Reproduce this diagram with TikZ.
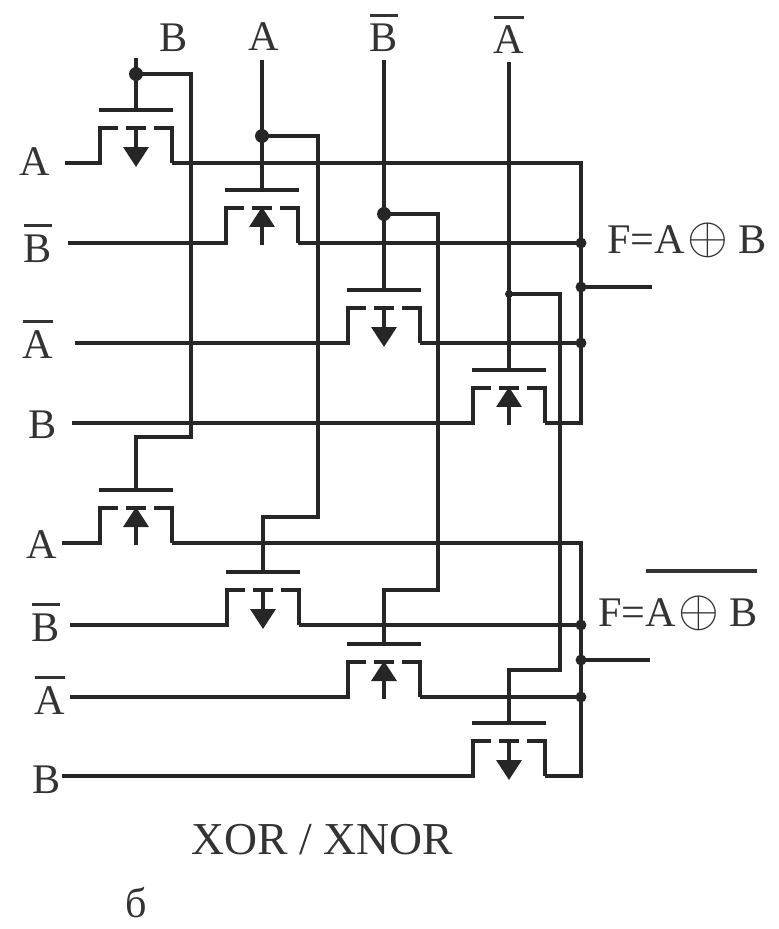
\documentclass[tikz,border=0pt]{standalone}
\usepackage{fontspec}
\usepackage{graphicx}
\setmainfont{Liberation Serif}
\usetikzlibrary{arrows.meta}
\newcommand{\ovl}[2][4pt]{\leavevmode\vbox{\hrule height 2pt \kern #1\hbox{#2}}}
\newcommand{\xorsym}{\kern1.5pt\scalebox{1.2}{\fontsize{30}{30}\selectfont$\oplus$}\kern1.5pt}

\begin{document}
\begin{tikzpicture}[
  x=0.02cm, y=-0.02cm,
  font=\fontsize{24}{28}\selectfont,
  wire/.style={line width=2pt, black!85},
  gatebar/.style={line width=1.8pt, black!85},
  channel/.style={line width=2pt, black!85, line join=miter},
  flow/.style={line width=2pt, black!85, -{Triangle[length=0.4cm,width=0.5cm]}},
  dot/.style={circle, fill=black!85, minimum size=0pt},
  label/.style={anchor=base, text=black!80}
]
\useasboundingbox (0,0) rectangle (778,929);

% Eight transistors: name / centre / gate level / arrow from / arrow to / input end / label x / baseline / label
\foreach \name/\cx/\gy/\af/\at/\inx/\lx/\ly/\txt in {
  t1/136/110/17/57/65/35/175/{A},
  t2/262/190/55/17/68/38/262/{\ovl{B}},
  t3/384/290/17/57/75/38/358/{\ovl{A}},
  t4/509/370/55/17/72/43/438/{B},
  t5/136/490/55/17/62/42/558/{A},
  t6/263/572/17/57/70/46/641/{\ovl{B}},
  t7/384/644/55/17/70/50/714/{\ovl{A}},
  t8/509/723/17/57/62/47/793/{B}} {
  \coordinate (\name-g) at (\cx,\gy);
  \coordinate (\name-s) at (\cx-36,\gy+53);
  \coordinate (\name-d) at (\cx+36,\gy+53);
  \coordinate (\name-in) at (\inx,\gy+53);
  \coordinate (\name-sc) at (\cx-18,\gy+18);
  \coordinate (\name-dc) at (\cx+18,\gy+18);
  \draw[gatebar] (\cx-37,\gy) -- (\cx+37,\gy);
  \draw[channel] (\name-in) -- (\name-s) |- (\name-sc);
  \draw[channel] (\name-dc) -| (\name-d);
  \draw[channel] (\cx-10,\gy+18) -- (\cx+10,\gy+18);
  \draw[flow] (\cx,\gy+\af) -- (\cx,\gy+\at);
  \node[label] (\name-lab) at (\lx,\ly) {\txt};
}

% Gate lines from the top, each with its branch down to the lower transistor
\foreach \up/\low/\lx/\ly/\txt/\topy/\jy/\rx/\ry/\ds in {
  t1/t5/174/52/{B}/58/74/191/437/2.8,
  t2/t6/264/51/{A}/60/136/318/517/2.8,
  t3/t7/384/52/{\ovl{B}}/60/214/438/590/2.8,
  t4/t8/509/54/{\ovl{A}}/62/294/560/670/1.6} {
  \node[label] (\up-top) at (\lx,\ly) {\txt};
  \coordinate (\up-start) at (\up-g |- 0,\topy);
  \coordinate (\up-turn) at (\rx,\ry);
  \draw[wire] (\up-start) -- (\up-g);
  \node[dot, inner sep=\ds pt] (\up-j) at (\up-g |- 0,\jy) {};
  \draw[wire] (\up-j.center) -| (\up-turn) -| (\low-g);
}

% Outputs of the upper and lower groups
\foreach \name in {t1,t2,t3,t4,t5,t6,t7,t8} {
  \coordinate (\name-bus) at (\name-d -| 581,0);
  \draw[wire] (\name-d) -- (\name-bus);
}
\draw[wire, line cap=rect] (t1-bus) -- (t4-bus);
\draw[wire, line cap=rect] (t5-bus) -- (t8-bus);
\foreach \name in {t2,t3,t6,t7} {
  \node[dot, inner sep=2.2pt] (\name-bj) at (\name-bus) {};
}
\node[dot, inner sep=2.2pt] (outA-j) at (581,287) {};
\node[dot, inner sep=2.2pt] (outB-j) at (581,660) {};
\coordinate (outA) at (652,287);
\coordinate (outB) at (650,660);
\draw[wire] (outA-j.center) -- (outA);
\draw[wire] (outB-j.center) -- (outB);

\node[label, anchor=base west, inner sep=0pt] (fA) at (607,254) {F=A\xorsym\,B};
\node[label, anchor=base west, inner sep=0pt] (fB) at (598,626) {F=\ovl[13pt]{A\xorsym\,B}};

\node[label, font=\fontsize{26}{30}\selectfont] (title) at (322,854) {XOR / XNOR};
\node[label] (tag) at (136,917) {б};
\end{tikzpicture}
\end{document}
